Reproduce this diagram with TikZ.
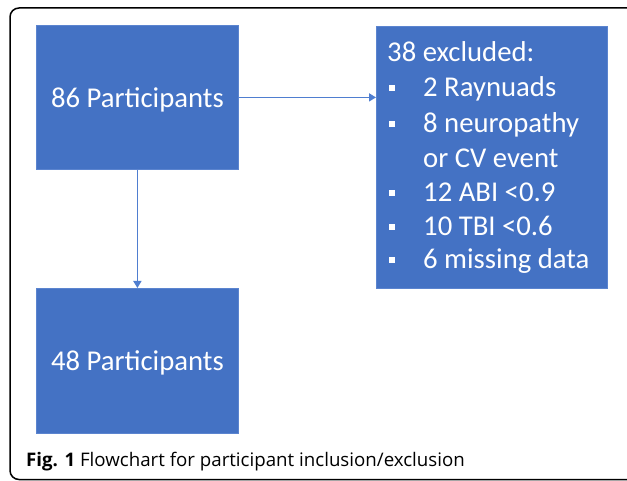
\documentclass[tikz,border=0pt]{standalone}
\usepackage{fontspec}
\setmainfont{Carlito}
\newfontfamily\capfont{Open Sans}
\usetikzlibrary{arrows.meta}
\definecolor{boxblue}{HTML}{4472C4}
\definecolor{boxedge}{HTML}{5B84CF}
\definecolor{linkblue}{HTML}{4F7ED0}
\tikzset{
  bluebox/.style={draw=boxedge, line width=0.8pt, fill=boxblue, text=white, inner sep=0pt,
    anchor=north west, font=\fontsize{28.7}{34.5}\selectfont, text depth=0pt},
  listline/.style={anchor=base west, inner sep=0pt, text=white, font=\fontsize{28.7}{34.5}\selectfont},
  bulletmark/.style={fill=white, inner sep=0pt, minimum size=6pt},
  link/.style={draw=linkblue, line width=1.6pt, -{Triangle[length=7pt,width=8pt]}},
}
\begin{document}
\begin{tikzpicture}[x=1pt,y=-1pt]
\useasboundingbox (0,0) rectangle (627,481);
\fill[white] (0,0) rectangle (627,481);
\draw[line width=1.5pt, rounded corners=9pt] (10,8) rectangle (640,479.5);

\node[bluebox, minimum width=202pt, minimum height=144pt] (a) at (36,25) {86 Participants};
\node[bluebox, minimum width=202pt, minimum height=145pt] (b) at (36,288) {48 Participants};
\node[bluebox, minimum width=231pt, minimum height=262pt] (c) at (376,26) {};

\node[listline] (l0) at (387,62) {38 excluded:};
\node[listline] (l1) at (423,97) {2 Raynuads};
\node[listline] (l2) at (423,133) {8 neuropathy};
\node[listline] (l2b) at (423,168) {or CV event};
\node[listline] (l3) at (423,202) {12 ABI <0.9};
\node[listline] (l4) at (423,236) {10 TBI <0.6};
\node[listline] (l5) at (423,269) {6 missing data};
\node[bulletmark] (b1) at (392,88) {};
\node[bulletmark] (b2) at (392,124) {};
\node[bulletmark] (b3) at (392,193) {};
\node[bulletmark] (b4) at (392,227) {};
\node[bulletmark] (b5) at (392,260) {};

\draw[link] (a.east) -- (a.east -| c.west);
\draw[link] (a.south) -- (b.north);

\node[anchor=base west, inner sep=0pt, font=\capfont\fontsize{18.7}{22}\selectfont] (cap) at (26,466)
  {\textbf{Fig. 1} Flowchart for participant inclusion/exclusion};
\end{tikzpicture}
\end{document}
